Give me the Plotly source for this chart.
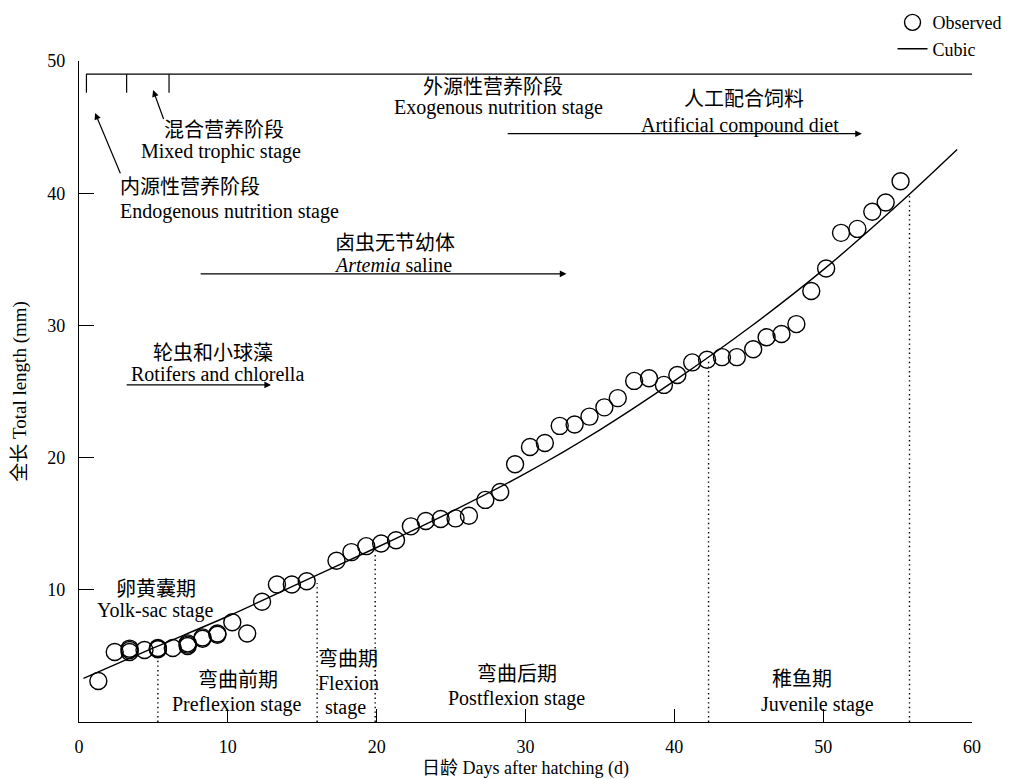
import plotly.graph_objects as go

# ---------------- data ----------------
obs_days = [1.3, 2.4, 3.4, 3.4, 3.4, 4.4, 5.3, 5.3, 5.3, 6.3, 7.3, 7.3, 7.3, 8.3, 8.3, 9.3, 9.3,
            10.3, 11.3, 12.3, 13.3, 14.3, 15.3, 17.3, 18.3, 19.3, 20.3, 21.3, 22.3, 23.3,
            24.3, 25.3, 26.2, 27.3, 28.3, 29.3, 30.3, 31.3, 32.3, 33.3, 34.3, 35.3, 36.2,
            37.3, 38.3, 39.3, 40.2, 41.2, 42.2, 43.2, 44.2, 45.3, 46.2, 47.2, 48.2, 49.2,
            50.2, 51.2, 52.3, 53.3, 54.2, 55.2]
obs_length = [3.1, 5.3, 5.3, 5.45, 5.55, 5.45, 5.5, 5.55, 5.6, 5.6, 5.75, 5.85, 5.95, 6.3, 6.4, 6.6, 6.7,
              7.55, 6.7, 9.1, 10.4, 10.4, 10.65, 12.2, 12.85, 13.3, 13.5, 13.75, 14.8, 15.2,
              15.35, 15.4, 15.6, 16.8, 17.4, 19.5, 20.8, 21.1, 22.4, 22.5, 23.1, 23.8, 24.5,
              25.8, 26.0, 25.5, 26.25, 27.2, 27.4, 27.6, 27.6, 28.2, 29.1, 29.35, 30.1, 32.6,
              34.3, 37.0, 37.3, 38.6, 39.3, 40.9]

cubic_days = [0.3, 5, 10, 15, 20, 25, 30, 35, 40, 45, 50, 55, 59]
cubic_length = [3.3, 5.6, 8.0, 10.6, 13.2, 15.9, 18.8, 22.1, 25.8, 29.8, 34.2, 39.1, 43.3]

stage_bounds = [5.3, 16.0, 19.9, 42.3, 55.8]
stage_bound_tops = [5.0, 10.5, 12.9, 27.4, 39.8]

x_ticks = [0, 10, 20, 30, 40, 50, 60]
y_ticks = [10, 20, 30, 40, 50]

# nutrition bracket at top
bracket_y = 49.0
bracket_tick_bottom = 47.6
bracket_start = 0.47
bracket_end = 60
bracket_ticks = [0.5, 3.2, 6.05]

# text labels: (text, x, y, xanchor)
labels = [
    ("混合营养阶段", 9.75, 44.75, "center"),
    ("Mixed trophic stage", 9.55, 43.15, "center"),
    ("内源性营养阶段", 2.7, 40.45, "left"),
    ("Endogenous nutrition stage", 2.7, 38.6, "left"),
    ("外源性营养阶段", 27.8, 48.0, "center"),
    ("Exogenous nutrition stage", 28.2, 46.45, "center"),
    ("人工配合饲料", 44.7, 47.15, "center"),
    ("Artificial compound diet", 44.4, 45.15, "center"),
    ("卤虫无节幼体", 21.2, 36.2, "center"),
    ("<i>Artemia</i> saline", 21.1, 34.55, "center"),
    ("轮虫和小球藻", 9.0, 27.9, "center"),
    ("Rotifers and chlorella", 9.3, 26.35, "center"),
    ("卵黄囊期", 5.15, 10.05, "center"),
    ("Yolk-sac stage", 5.1, 8.45, "center"),
    ("弯曲前期", 10.7, 3.15, "center"),
    ("Preflexion stage", 10.6, 1.3, "center"),
    ("弯曲期", 18.1, 4.8, "center"),
    ("Flexion", 18.1, 2.95, "center"),
    ("stage", 17.9, 1.1, "center"),
    ("弯曲后期", 29.4, 3.65, "center"),
    ("Postflexion stage", 29.4, 1.8, "center"),
    ("稚鱼期", 48.6, 3.25, "center"),
    ("Juvenile stage", 49.6, 1.3, "center"),
]

# arrows: (x_tail, y_tail, x_head, y_head)
arrows = [
    (28.7, 44.5, 52.6, 44.5),   # artificial compound diet
    (8.07, 33.9, 32.75, 33.9),  # Artemia
    (3.1, 25.5, 12.9, 25.5),    # rotifers
    (2.82, 41.4, 1.08, 46.07),  # endogenous
    (5.72, 45.5, 4.98, 47.8),   # mixed trophic
]

FONT = "Liberation Serif, Times New Roman, Noto Sans CJK SC, serif"

fig = go.Figure()
fig.add_trace(go.Scatter(
    x=obs_days, y=obs_length, mode="markers", name="Observed",
    marker=dict(symbol="circle-open", size=17, color="black", line=dict(width=1.4, color="black")),
))
fig.add_trace(go.Scatter(
    x=cubic_days, y=cubic_length, mode="lines", name="Cubic",
    line=dict(color="black", width=1.4, shape="spline", smoothing=1.0),
))

shapes = []
for xb, yt in zip(stage_bounds, stage_bound_tops):
    shapes.append(dict(type="line", xref="x", yref="y", x0=xb, x1=xb, y0=0, y1=yt,
                       line=dict(color="black", width=1.4, dash="1.4px,3.2px")))
shapes.append(dict(type="line", xref="x", yref="y", x0=bracket_start, x1=bracket_end,
                   y0=bracket_y, y1=bracket_y, line=dict(color="black", width=1.2)))
for bt in bracket_ticks:
    shapes.append(dict(type="line", xref="x", yref="y", x0=bt, x1=bt,
                       y0=bracket_tick_bottom, y1=bracket_y, line=dict(color="black", width=1.2)))

annotations = []
for text, x, y, xa in labels:
    annotations.append(dict(text=text, x=x, y=y, xref="x", yref="y", showarrow=False,
                            xanchor=xa, yanchor="middle", borderpad=0,
                            font=dict(family=FONT, size=20, color="black")))
for xt, yt, xh, yh in arrows:
    annotations.append(dict(text="", x=xh, y=yh, ax=xt, ay=yt, xref="x", yref="y",
                            axref="x", ayref="y", showarrow=True, arrowhead=2,
                            arrowsize=1.1, arrowwidth=1.2, arrowcolor="black"))

fig.update_layout(
    width=1014, height=779,
    paper_bgcolor="white", plot_bgcolor="white",
    margin=dict(l=79, r=42, t=61, b=57, autoexpand=False),
    font=dict(family=FONT, size=17, color="black"),
    shapes=shapes, annotations=annotations,
    showlegend=True,
    legend=dict(x=0.911, y=1.086, xanchor="left", yanchor="top",
                bgcolor="rgba(0,0,0,0)", font=dict(family=FONT, size=18, color="black"),
                itemwidth=30, tracegroupgap=0),
    xaxis=dict(range=[0, 60], tickvals=x_ticks, showgrid=False, zeroline=False,
               showline=True, linecolor="black", linewidth=1.3, ticks="inside",
               ticklen=13, tickwidth=1.2, tickcolor="black",
               tickfont=dict(family=FONT, size=18), ticklabelstandoff=8,
               title=dict(text="日龄 Days after hatching (d)", standoff=9,
                          font=dict(family=FONT, size=18))),
    yaxis=dict(range=[0, 50], tickvals=y_ticks, showgrid=False, zeroline=False,
               showline=True, linecolor="black", linewidth=1.3, ticks="inside",
               ticklen=15, tickwidth=1.2, tickcolor="black",
               tickfont=dict(family=FONT, size=18), ticklabelstandoff=9,
               title=dict(text="全长 Total length (mm)", standoff=15,
                          font=dict(family=FONT, size=19))),
)

fig.write_html("out.html", config={"displayModeBar": False},
               post_script="document.body.style.margin='0';document.body.style.overflow='hidden';")
